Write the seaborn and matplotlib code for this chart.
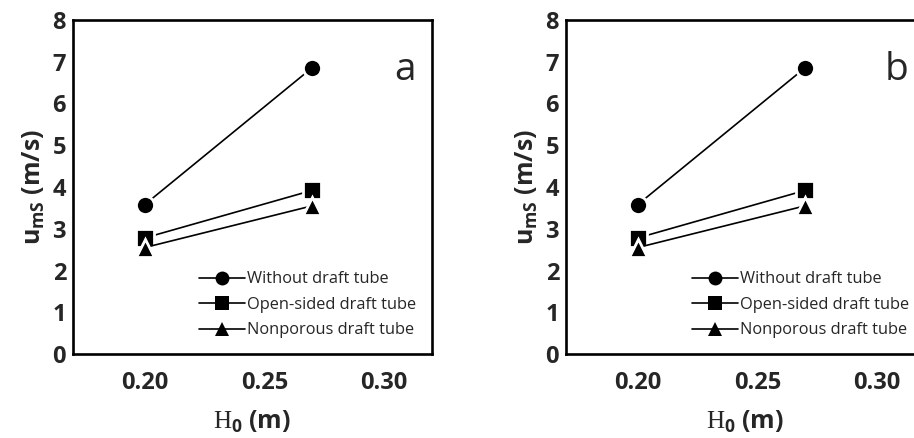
import pandas as pd
import matplotlib.pyplot as plt
import seaborn as sns

sns.set_style('white')
plt.rcParams['font.family'] = ['Open Sans', 'DejaVu Sans']
plt.rcParams['mathtext.fontset'] = 'custom'
plt.rcParams['mathtext.rm'] = 'Liberation Serif'
plt.rcParams['mathtext.bf'] = 'Open Sans:bold'

# Data
h0 = [0.20, 0.27]
without_tube = [3.58, 6.86]
open_sided = [2.78, 3.92]
nonporous = [2.55, 3.55]
series_names = ['Without draft tube', 'Open-sided draft tube', 'Nonporous draft tube']
panel_labels = ['a', 'b']

df = pd.DataFrame({
    'H0': h0 * 3,
    'ums': without_tube + open_sided + nonporous,
    'tube': [n for n in series_names for _ in h0],
})

fig = plt.figure(figsize=(9.14, 4.38), dpi=100)
lefts = [73 / 914, 566 / 914]

for left, lab in zip(lefts, panel_labels):
    ax = fig.add_axes([left, 84 / 438, 359 / 914, 334 / 438])
    sns.lineplot(data=df, x='H0', y='ums', style='tube', style_order=series_names,
                 markers=['o', 's', '^'], dashes=False, color='black',
                 markersize=13, markeredgecolor='white', markeredgewidth=2,
                 linewidth=1.2, ax=ax)
    ax.set_xlim(0.17, 0.32)
    ax.set_ylim(0, 8)
    ax.set_xticks([0.20, 0.25, 0.30])
    ax.set_xticklabels(['0.20', '0.25', '0.30'])
    ax.set_yticks(range(9))
    for t in ax.get_xticklabels() + ax.get_yticklabels():
        t.set_fontweight('bold')
        t.set_fontsize(17)
    ax.tick_params(axis='x', direction='in', length=7, width=1.8, pad=12)
    ax.tick_params(axis='y', length=0, pad=5)
    for s in ax.spines.values():
        s.set_linewidth(1.9)
        s.set_color('black')
    ax.set_xlabel(r'$\mathrm{H}_{\mathbf{0}}$ (m)', fontsize=18, fontweight='bold', labelpad=10)
    ax.set_ylabel(r'$\mathbf{u}_{\mathbf{mS}}$ (m/s)', fontsize=18, fontweight='bold', labelpad=4)
    ax.text(0.955, 0.85, lab, transform=ax.transAxes, fontsize=28, ha='right', va='center')
    leg = ax.legend(loc='lower right', bbox_to_anchor=(0.975, 0.027), frameon=False,
                    fontsize=11.8, handlelength=2.8, handletextpad=0.15,
                    labelspacing=0.58, borderaxespad=0.0)
    for h in leg.legend_handles:
        h.set_markeredgewidth(0)
        h.set_markersize(10)

fig.savefig('out.png', dpi=100)
